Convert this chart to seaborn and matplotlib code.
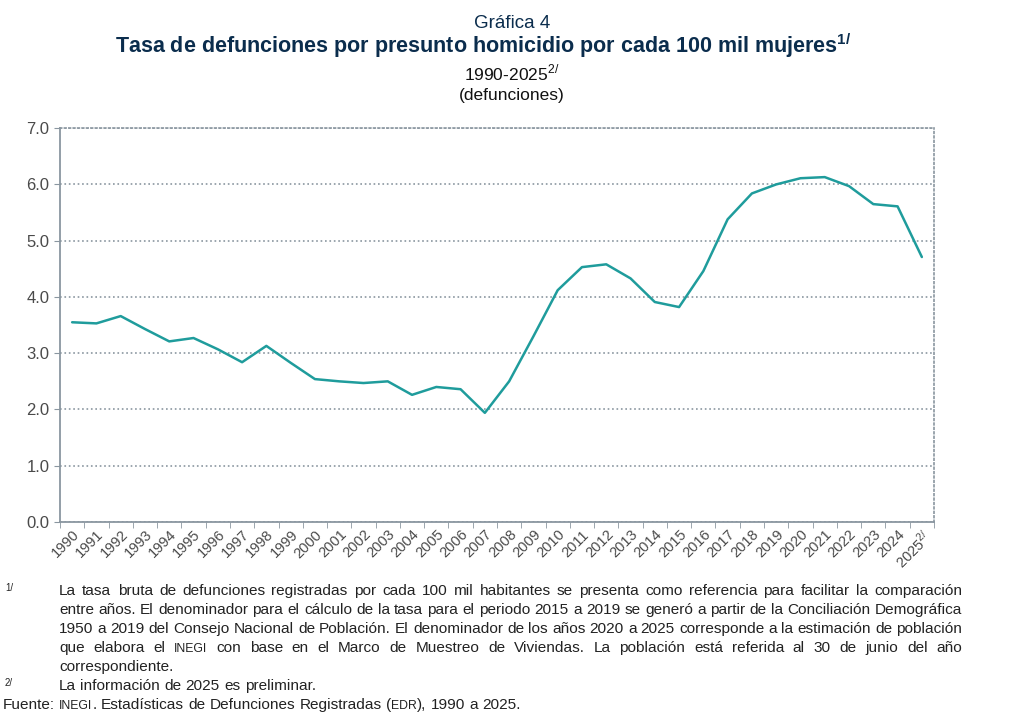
import re
import matplotlib
matplotlib.use('Agg')
import matplotlib.pyplot as plt
import seaborn as sns
import pandas as pd
from matplotlib.ticker import MultipleLocator, FixedLocator

anios = [str(a) for a in range(1990, 2026)]
tasa = [3.55, 3.53, 3.66, 3.43, 3.21, 3.27, 3.07, 2.84, 3.13, 2.83,
        2.54, 2.50, 2.47, 2.50, 2.26, 2.40, 2.36, 1.94, 2.50, 3.30,
        4.12, 4.53, 4.58, 4.33, 3.91, 3.82, 4.46, 5.38, 5.84, 6.00,
        6.11, 6.13, 5.97, 5.65, 5.61, 4.71]
etiquetas = anios[:-1] + ['2025$^{\\mathregular{2/}}$']

# notas al pie ({...} = versalitas)
nota1 = ['La tasa bruta de defunciones registradas por cada 100 mil habitantes se presenta como referencia para facilitar la comparación',
         'entre años. El denominador para el cálculo de la tasa para el periodo 2015 a 2019 se generó a partir de la Conciliación Demográfica',
         '1950 a 2019 del Consejo Nacional de Población. El denominador de los años 2020 a 2025 corresponde a la estimación de población',
         'que elabora el {INEGI} con base en el Marco de Muestreo de Viviendas. La población está referida al 30 de junio del año',
         'correspondiente.']
nota2 = 'La información de 2025 es preliminar.'
fuente = 'Fuente: {INEGI}. Estadísticas de Defunciones Registradas ({EDR}), 1990 a 2025.'

dados = pd.DataFrame({'pos': range(len(anios)), 'anio': anios, 'tasa': tasa})

sns.set_style('white')
plt.rcParams['font.family'] = ['Liberation Sans', 'DejaVu Sans']
plt.rcParams['mathtext.fontset'] = 'custom'
plt.rcParams['mathtext.rm'] = 'Liberation Sans'

W, H = 1024, 720
fig = plt.figure(figsize=(W / 100, H / 100), dpi=100)
ax = fig.add_axes([0.0586, 0.275, 0.8535, 0.547])

sns.lineplot(x='pos', y='tasa', data=dados, color='#1f9c9c', linewidth=1.8, ax=ax)

ax.set_xlim(-0.5, len(anios) - 0.5)
ax.set_ylim(0, 7)
ax.yaxis.set_major_locator(MultipleLocator(1))
ax.set_yticklabels([f'{v:.1f}' for v in ax.get_yticks()], fontsize=12, color='#4a4a4a')
ax.grid(axis='y', linestyle=':', color='#8a96a0', linewidth=1.2)

ax.set_xticks(range(len(anios)))
ax.set_xticklabels(etiquetas, rotation=45, ha='right', rotation_mode='anchor', fontsize=10.5,
                   color='#4a4a4a')
ax.xaxis.set_minor_locator(FixedLocator([i - 0.5 for i in range(len(anios) + 1)]))
ax.tick_params(axis='x', which='major', length=0, pad=4)
ax.tick_params(axis='x', which='minor', length=4, color='#8a96a0', bottom=True)
ax.tick_params(axis='y', length=4, color='#8a96a0', left=True)
ax.set_xlabel('')
ax.set_ylabel('')

for lado in ['left', 'bottom']:
    ax.spines[lado].set_color('#8a96a0')
    ax.spines[lado].set_linewidth(1.3)
for lado in ['top', 'right']:
    ax.spines[lado].set_color('#8a96a0')
    ax.spines[lado].set_linestyle(':')
    ax.spines[lado].set_linewidth(1.2)

# titulos
fig.text(0.5, 0.968, 'Gráfica 4', ha='center', va='center', fontsize=13.5, color='#0b2d4d')
fig.text(0.472, 0.936, 'Tasa de defunciones por presunto homicidio por cada 100 mil mujeres$^{\\mathregular{1/}}$',
         ha='center', va='center', fontsize=15.5, fontweight='bold', color='#0b2d4d')
fig.text(0.5, 0.899, '1990-2025$^{\\mathregular{2/}}$', ha='center', va='center', fontsize=12.5,
         color='#111111')
fig.text(0.5, 0.868, '(defunciones)', ha='center', va='center', fontsize=12.5, color='#111111')

# notas al pie, justificadas palabra por palabra
tam, tam_chico, color_nota = 11.1, 8.8, '#222222'
r = fig.canvas.get_renderer()


def ancho(texto, size):
    # ancho de avance: se mide entre dos letras para no perder los espacios laterales
    t1 = fig.text(0, 0, 'a' + texto + 'a', fontsize=size)
    t2 = fig.text(0, 0, 'aa', fontsize=size)
    w = t1.get_window_extent(renderer=r).width - t2.get_window_extent(renderer=r).width
    t1.remove()
    t2.remove()
    return w


def partes(palabra):
    out = []
    for trozo in re.split(r'(\{[^}]*\})', palabra):
        if not trozo:
            continue
        if trozo.startswith('{'):
            out.append((trozo[1:-1], tam_chico))
        else:
            out.append((trozo, tam))
    return out


def escribir(linea, y, x0, x1=None):
    piezas = [partes(p) for p in linea.split(' ')]
    anchos = [sum(ancho(t, s) for t, s in pz) for pz in piezas]
    if x1 is None or len(piezas) < 2:
        hueco = ancho(' ', tam)
    else:
        hueco = (x1 - x0 - sum(anchos)) / (len(piezas) - 1)
    x = x0
    for pz, a in zip(piezas, anchos):
        xx = x
        for t, s in pz:
            fig.text(xx / W, 1 - y / H, t, fontsize=s, va='baseline', color=color_nota)
            xx += ancho(t, s)
        x += a + hueco


x_texto, x_fin = 59, 962
base0, paso = 595, 19
for i, linea in enumerate(nota1):
    escribir(linea, base0 + i * paso, x_texto, x_fin if i < len(nota1) - 1 else None)
escribir(nota2, base0 + 5 * paso, x_texto)
escribir(fuente, base0 + 6 * paso, 3)
fig.text(5 / W, 1 - (base0 - 4) / H, '1/', fontsize=7, va='baseline', color=color_nota)
fig.text(5 / W, 1 - (base0 + 5 * paso - 4) / H, '2/', fontsize=7, va='baseline', color=color_nota)

plt.savefig('out.png', dpi=100)
